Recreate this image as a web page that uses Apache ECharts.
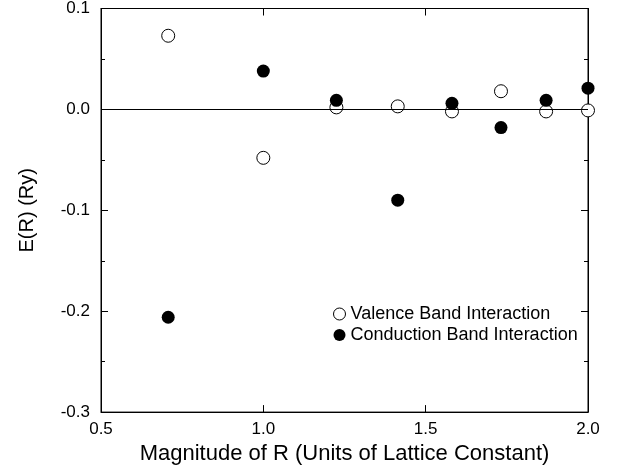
<!DOCTYPE html>
<html>
<head>
<meta charset="utf-8">
<script src="https://cdn.jsdelivr.net/npm/echarts@6/dist/echarts.min.js"></script>
<style>
  html, body { margin: 0; padding: 0; background: #fff; }
  #chart { width: 624px; height: 470px; }
</style>
</head>
<body>
<div id="chart"></div>
<script>
// |R| in units of lattice constant
var radius = [0.707, 1.0, 1.225, 1.414, 1.581, 1.732, 1.871, 2.0];
// E(R) in Ry
var valence = [0.073, -0.048, 0.002, 0.003, -0.002, 0.018, -0.002, -0.001];
var conduction = [-0.206, 0.038, 0.009, -0.090, 0.006, -0.018, 0.009, 0.021];

var font = "'Liberation Sans', Arial, sans-serif";

function pairs(ys) {
  return radius.map(function (x, i) { return [x, ys[i]]; });
}

var myChart = echarts.init(document.getElementById("chart"));

function frameX(pos) {
  return {
    type: "value", min: 0.5, max: 2.0, interval: 0.5, position: pos,
    axisLine: { show: true, onZero: false, lineStyle: { color: "#000", width: 1 } },
    axisTick: { show: true, inside: true, length: 7, lineStyle: { color: "#000" } },
    splitLine: { show: false }
  };
}
function frameY(pos) {
  return {
    type: "value", min: -0.3, max: 0.1, interval: 0.1, position: pos,
    axisLine: { show: true, onZero: false, lineStyle: { color: "#000", width: 1 } },
    axisTick: { show: true, inside: true, length: 7, lineStyle: { color: "#000" } },
    minorTick: { show: true, splitNumber: 2, length: 4, lineStyle: { color: "#000" } },
    splitLine: { show: false }
  };
}

var xBottom = frameX("bottom");
xBottom.name = "Magnitude of R (Units of Lattice Constant)";
xBottom.nameLocation = "middle";
xBottom.nameGap = 22;
xBottom.nameTextStyle = { fontFamily: font, fontSize: 22, color: "#000" };
xBottom.axisLabel = {
  fontFamily: font, fontSize: 17, color: "#000", margin: 9,
  formatter: function (v) { return v.toFixed(1); }
};
var xTop = frameX("top");
xTop.axisLabel = { show: false };

var yLeft = frameY("left");
yLeft.name = "E(R) (Ry)";
yLeft.nameLocation = "middle";
yLeft.nameGap = 64;
yLeft.nameTextStyle = { fontFamily: font, fontSize: 20, color: "#000" };
yLeft.axisLabel = {
  fontFamily: font, fontSize: 17, color: "#000", margin: 11,
  formatter: function (v) { return v.toFixed(1); }
};
var yRight = frameY("right");
yRight.axisLabel = { show: false };

var option = {
  animation: false,
  grid: { left: 101, right: 36, top: 8, bottom: 57, show: true, borderColor: "#000", borderWidth: 1 },
  xAxis: [xBottom, xTop],
  yAxis: [yLeft, yRight],
  legend: {
    orient: "vertical",
    left: 328,
    top: 300,
    itemWidth: 12,
    itemHeight: 12,
    itemGap: 3,
    textStyle: { fontFamily: font, fontSize: 18, color: "#000" },
    data: [
      { name: "Valence Band Interaction", icon: "circle", itemStyle: { color: "#fff", borderColor: "#000", borderWidth: 1, opacity: 1 } },
      { name: "Conduction Band Interaction", icon: "circle", itemStyle: { color: "#000", opacity: 1 } }
    ]
  },
  series: [
    {
      name: "Valence Band Interaction",
      type: "scatter",
      symbol: "circle",
      symbolSize: 13,
      itemStyle: { color: "#fff", borderColor: "#000", borderWidth: 1, opacity: 1 },
      data: pairs(valence),
      markLine: {
        silent: true,
        symbol: "none",
        label: { show: false },
        lineStyle: { color: "#000", width: 1, type: "solid", opacity: 1 },
        data: [{ yAxis: 0 }]
      },
      z: 3
    },
    {
      name: "Conduction Band Interaction",
      type: "scatter",
      symbol: "circle",
      symbolSize: 13,
      itemStyle: { color: "#000", borderColor: "#000", borderWidth: 0, opacity: 1 },
      data: pairs(conduction),
      z: 4
    },
    {
      // binds the top / right frame axes so their ticks are drawn
      name: "frame",
      type: "scatter",
      xAxisIndex: 1,
      yAxisIndex: 1,
      silent: true,
      data: []
    }
  ]
};

myChart.setOption(option);
</script>
</body>
</html>
